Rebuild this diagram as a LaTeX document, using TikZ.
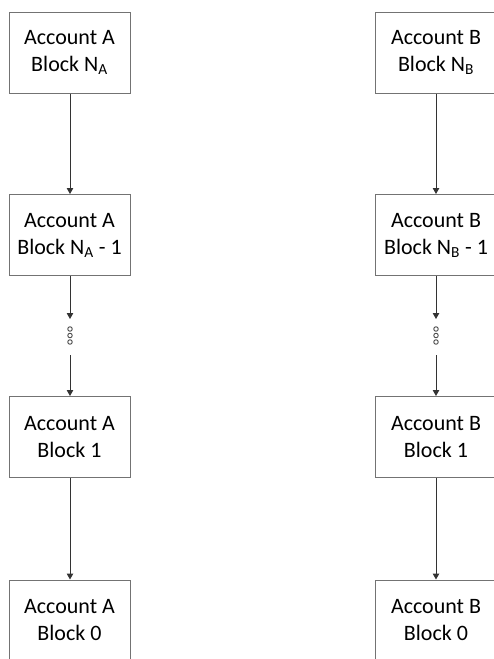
\documentclass[tikz,border=0pt]{standalone}
\usepackage{fontspec}
\setmainfont{Carlito}
\usetikzlibrary{arrows.meta}

\tikzset{
  blockbox/.style={draw=black!55, line width=1pt, fill=white,
    minimum width=121pt, minimum height=81pt, inner sep=0pt,
    align=center, font=\fontsize{22}{27}\selectfont},
  link/.style={draw=black!80, line width=1pt,
    -{Triangle[length=6pt,width=6.5pt]}},
  gapdot/.style={circle, draw=black!70, line width=0.9pt, fill=white,
    minimum size=4.5pt, inner sep=0pt}
}

\begin{document}
\begin{tikzpicture}[x=1pt,y=-1pt]
  \useasboundingbox (0,0) rectangle (494,659);
  \clip (0,0) rectangle (494,659);

  % chain of account A
  \node[blockbox] (a1) at (69.5,52.5) {Account A\\Block N\textsubscript{A}};
  \node[blockbox] (a2) at (69.5,235) {Account A\\Block N\textsubscript{A} - 1};
  \node[blockbox] (a3) at (69.5,437) {Account A\\Block 1};
  \node[blockbox] (a4) at (69.5,620.5) {Account A\\Block 0};

  \coordinate (agapTop) at (70,319);
  \coordinate (agapBot) at (70,355);
  \node[gapdot] (ad1) at (70,329) {};
  \node[gapdot] (ad2) at (70,335.5) {};
  \node[gapdot] (ad3) at (70,342) {};

  \draw[link] (a1.south -| agapTop) -- (a2.north -| agapTop);
  \draw[link] (a2.south -| agapTop) -- (agapTop);
  \draw[link] (agapBot) -- (a3.north -| agapBot);
  \draw[link] (a3.south -| agapTop) -- (a4.north -| agapTop);

  % chain of account B
  \node[blockbox] (b1) at (436,52.5) {Account B\\Block N\textsubscript{B}};
  \node[blockbox] (b2) at (436,235) {Account B\\Block N\textsubscript{B} - 1};
  \node[blockbox] (b3) at (436,437) {Account B\\Block 1};
  \node[blockbox] (b4) at (436,620.5) {Account B\\Block 0};

  \coordinate (bgapTop) at (436,319);
  \coordinate (bgapBot) at (436,355);
  \node[gapdot] (bd1) at (436,329) {};
  \node[gapdot] (bd2) at (436,335.5) {};
  \node[gapdot] (bd3) at (436,342) {};

  \draw[link] (b1) -- (b2);
  \draw[link] (b2) -- (bgapTop);
  \draw[link] (bgapBot) -- (b3);
  \draw[link] (b3) -- (b4);
\end{tikzpicture}
\end{document}
